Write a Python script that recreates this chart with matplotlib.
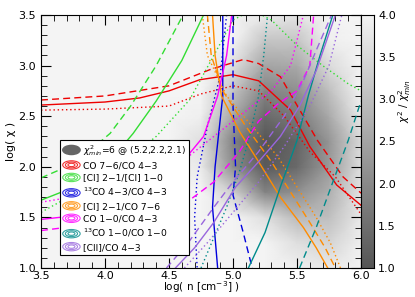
import numpy as np
import matplotlib
matplotlib.use("Agg")
import matplotlib.pyplot as plt
from matplotlib.colors import LinearSegmentedColormap
from matplotlib.legend_handler import HandlerBase
from matplotlib.patches import Ellipse, Patch
from matplotlib.lines import Line2D

# chi2/chi2_min grid (rows: log chi 1.0 .. 3.5, cols: log n 3.5 .. 6.0)
grid_x = [3.5, 3.75, 4.0, 4.25, 4.5, 4.75, 5.0, 5.25, 5.5, 5.75, 6.0]
grid_y = [1.0, 1.25, 1.5, 1.75, 2.0, 2.25, 2.5, 2.75, 3.0, 3.25, 3.5]
chi_ratio = [
    [4, 4, 4, 4, 4, 4.0, 4.0, 4.0, 3.9, 3.8, 4.0],
    [4, 4, 4, 4, 4, 4.0, 4.0, 4.0, 3.6, 3.4, 3.9],
    [4, 4, 4, 4, 4, 4.0, 4.0, 3.6, 2.9, 3.0, 3.8],
    [4, 4, 4, 4, 4, 4.0, 3.3, 1.9, 2.1, 2.7, 3.7],
    [4, 4, 4, 4, 4, 3.8, 2.1, 1.1, 1.4, 2.3, 3.6],
    [4, 4, 4, 4, 4, 3.6, 1.9, 1.0, 1.3, 2.2, 3.5],
    [4, 4, 4, 4, 4, 3.9, 2.5, 1.4, 1.7, 2.6, 3.8],
    [4, 4, 4, 4, 4, 4.0, 3.1, 1.9, 2.1, 3.0, 4.0],
    [4, 4, 4, 4, 4, 4.0, 3.6, 2.5, 2.6, 3.5, 4.0],
    [4, 4, 4, 4, 4, 4.0, 4.0, 3.1, 3.1, 3.9, 4.0],
    [4, 4, 4, 4, 4, 4.0, 4.0, 3.8, 3.7, 4.0, 4.0],
]

# line ratio curves (log n, log chi): solid / dashed / dotted
red_solid = ([3.5, 4.0, 4.27, 4.5, 4.74, 5.0, 5.2, 5.45, 5.6, 5.81, 6.0],
             [2.61, 2.64, 2.68, 2.75, 2.86, 2.91, 2.85, 2.56, 2.2, 1.82, 1.62])
red_dash = ([3.5, 4.0, 4.5, 4.82, 5.08, 5.2, 5.37, 5.66, 5.86, 6.0],
            [2.66, 2.7, 2.8, 2.96, 3.06, 3.02, 2.89, 2.26, 1.9, 1.74])
red_dot = ([3.5, 4.0, 4.5, 4.75, 5.0, 5.2, 5.4, 5.6, 5.8, 6.0],
           [2.56, 2.57, 2.6, 2.72, 2.8, 2.75, 2.5, 2.15, 1.9, 1.53])

green_solid = ([3.5, 3.8, 4.0, 4.22, 4.4, 4.6, 4.77],
               [1.67, 1.82, 2.0, 2.33, 2.65, 3.05, 3.5])
green_dash = ([3.5, 3.7, 3.9, 4.04, 4.2, 4.4, 4.61],
              [1.89, 2.0, 2.18, 2.33, 2.6, 3.0, 3.5])
green_dot = ([3.5, 4.0, 4.4, 4.66, 4.85, 5.0, 5.15, 5.3, 5.5, 5.7, 5.9, 6.0],
             [1.55, 1.9, 2.3, 2.66, 3.1, 3.45, 3.55, 3.45, 3.2, 3.0, 2.82, 2.75])

blue_solid = ([4.92, 4.92, 4.89, 4.86, 4.84, 4.88],
              [3.5, 2.7, 2.35, 2.0, 1.6, 1.0])
blue_dash = ([5.0, 5.0, 5.02, 5.0, 5.08, 5.15],
             [3.5, 2.6, 2.0, 1.72, 1.35, 1.0])
blue_dot = ([4.95, 4.9, 4.8, 4.72, 4.7, 4.72],
            [3.5, 2.9, 2.4, 1.9, 1.5, 1.0])

orange_solid = ([4.84, 4.86, 4.91, 5.05, 5.2, 5.37, 5.55, 5.65, 5.74],
                [3.5, 3.1, 2.7, 2.35, 2.05, 1.7, 1.4, 1.2, 1.0])
orange_dash = ([4.8, 4.83, 4.92, 5.1, 5.3, 5.45, 5.6, 5.72, 5.8],
               [3.5, 3.1, 2.75, 2.4, 2.05, 1.75, 1.45, 1.2, 1.0])
orange_dot = ([4.76, 4.8, 4.95, 5.15, 5.35, 5.5, 5.65, 5.76, 5.84],
              [3.5, 3.1, 2.7, 2.4, 2.1, 1.8, 1.5, 1.25, 1.0])

magenta_solid = ([3.5, 4.0, 4.3, 4.5, 4.62, 4.77, 4.88, 4.95, 4.99],
                 [1.48, 1.55, 1.7, 1.9, 2.07, 2.3, 2.7, 3.1, 3.5])
magenta_dash = ([3.5, 4.0, 4.4, 4.66, 4.85, 5.05, 5.2, 5.35, 5.5, 5.6, 5.63],
                [1.37, 1.45, 1.55, 1.67, 1.85, 2.15, 2.45, 2.62, 2.75, 3.0, 3.5])
magenta_dot = ([3.5, 4.2, 4.6, 4.9, 5.1, 5.3, 5.45, 5.55],
               [1.65, 1.8, 2.05, 2.35, 2.55, 2.75, 3.0, 3.5])

teal_solid = ([5.12, 5.25, 5.37, 5.5, 5.59, 5.68, 5.78],
              [1.0, 1.35, 1.8, 2.26, 2.71, 3.1, 3.5])
teal_dash = ([5.52, 5.65, 5.78, 5.9, 6.0],
             [1.0, 1.4, 1.85, 2.26, 2.65])
teal_dot = ([4.75, 4.85, 4.95, 5.05, 5.13, 5.2, 5.24, 5.27],
            [1.0, 1.3, 1.6, 1.95, 2.3, 2.7, 3.1, 3.5])

purple_solid = ([4.55, 4.7, 4.85, 5.02, 5.2, 5.37, 5.52, 5.65, 5.8],
                [1.0, 1.2, 1.45, 1.8, 2.05, 2.3, 2.6, 2.95, 3.5])
purple_dash = ([4.48, 4.65, 4.85, 5.0, 5.2, 5.4, 5.55, 5.65, 5.77],
               [1.0, 1.25, 1.6, 1.85, 2.15, 2.5, 2.85, 3.15, 3.5])
purple_dot = ([4.62, 4.8, 5.0, 5.2, 5.4, 5.6, 5.75, 5.85],
              [1.0, 1.25, 1.55, 1.85, 2.2, 2.6, 3.0, 3.5])

labels = ["CO 7\u22126/CO 4\u22123", "[CI] 2\u22121/[CI] 1\u22120",
          "$^{13}$CO 4\u22123/CO 4\u22123", "[CI] 2\u22121/CO 7\u22126",
          "CO 1\u22120/CO 4\u22123", "$^{13}$CO 1\u22120/CO 1\u22120",
          "[CII]/CO 4\u22123"]
colors = ["#ee0000", "#33dd33", "#0000dd", "#ff8c00", "#ff00ff", "#008b8b", "#9966dd"]
curves = [(red_solid, red_dash, red_dot), (green_solid, green_dash, green_dot),
          (blue_solid, blue_dash, blue_dot), (orange_solid, orange_dash, orange_dot),
          (magenta_solid, magenta_dash, magenta_dot), (teal_solid, teal_dash, teal_dot),
          (purple_solid, purple_dash, purple_dot)]


class EllipseHandler(HandlerBase):
    def create_artists(self, legend, orig_handle, xdescent, ydescent, width, height, fontsize, trans):
        cx = width / 2 - xdescent
        cy = height / 2 - ydescent
        if isinstance(orig_handle, Patch):
            e = Ellipse((cx, cy), width, height * 1.2, facecolor="#666666", edgecolor="#666666")
            e.set_transform(trans)
            return [e]
        c = orig_handle.get_color()
        arts = []
        for s in [1.0, 0.7, 0.4]:
            e = Ellipse((cx, cy), width * s, height * 1.1 * s, fill=False, edgecolor=c, lw=0.8, alpha=0.8)
            e.set_transform(trans)
            arts.append(e)
        return arts


fig = plt.figure(figsize=(4.15, 2.97), dpi=100)
ax = fig.add_axes([0.0988, 0.0976, 0.7711, 0.852])
cax = fig.add_axes([0.8699, 0.0976, 0.0313, 0.852])

cmap = LinearSegmentedColormap.from_list("g", ["#555555", "#f4f4f4"])
ax.pcolormesh(grid_x, grid_y, np.array(chi_ratio), cmap=cmap, vmin=1, vmax=4,
              shading="gouraud")

for col, (s, d, o) in zip(colors, curves):
    ax.plot(s[0], s[1], color=col, lw=1.0)
    ax.plot(d[0], d[1], color=col, lw=1.0, dashes=(5, 3))
    ax.plot(o[0], o[1], color=col, lw=1.0, linestyle=(0, (1, 2)))

ax.set_xlim(3.5, 6.0)
ax.set_ylim(1.0, 3.5)
ax.set_xticks([3.5, 4.0, 4.5, 5.0, 5.5, 6.0])
ax.set_yticks([1.0, 1.5, 2.0, 2.5, 3.0, 3.5])
ax.set_xticks(np.arange(3.5, 6.01, 0.1), minor=True)
ax.set_yticks(np.arange(1.0, 3.51, 0.1), minor=True)
ax.tick_params(which="both", direction="in", top=True, right=True, labelsize=8)
ax.tick_params(axis="x", pad=2)
ax.tick_params(which="major", length=7)
ax.tick_params(which="minor", length=4)
ax.set_xlabel("log( n [cm$^{-3}$] )", fontsize=7.5, labelpad=-1)
ax.set_ylabel("log( \u03c7 )", fontsize=8, labelpad=2)

handles = [Patch(color="#666666")] + [Line2D([], [], color=c) for c in colors]
leg_labels = ["$\\chi^2_{min}$=6 @ (5.2,2.2,2.1)"] + labels
leg = ax.legend(handles, leg_labels, loc="lower left", bbox_to_anchor=(0.045, 0.035),
                fontsize=6.6, handler_map={Patch: EllipseHandler(), Line2D: EllipseHandler()},
                handlelength=1.9, handleheight=0.9, labelspacing=0.38, borderpad=0.3,
                handletextpad=0.35, fancybox=False, framealpha=1, edgecolor="black")
leg.get_frame().set_linewidth(0.8)

grad = np.linspace(1, 4, 256).reshape(-1, 1)
cax.imshow(grad, origin="lower", extent=[0, 1, 1, 4], cmap=cmap, vmin=1, vmax=4, aspect="auto")
cax.set_xticks([])
cax.yaxis.tick_right()
cax.set_yticks([1.0, 1.5, 2.0, 2.5, 3.0, 3.5, 4.0])
cax.set_yticklabels(["1.0", "1.5", "2.0", "2.5", "3.0", "3.5", "4.0"])
cax.tick_params(axis="y", direction="in", length=0, labelsize=8, pad=3)
fig.text(0.975, 0.66, "$\\chi^2$ / $\\chi^2_{min}$", rotation=90, fontsize=7.5, va="center", ha="center")

fig.savefig("out.png", dpi=100)
